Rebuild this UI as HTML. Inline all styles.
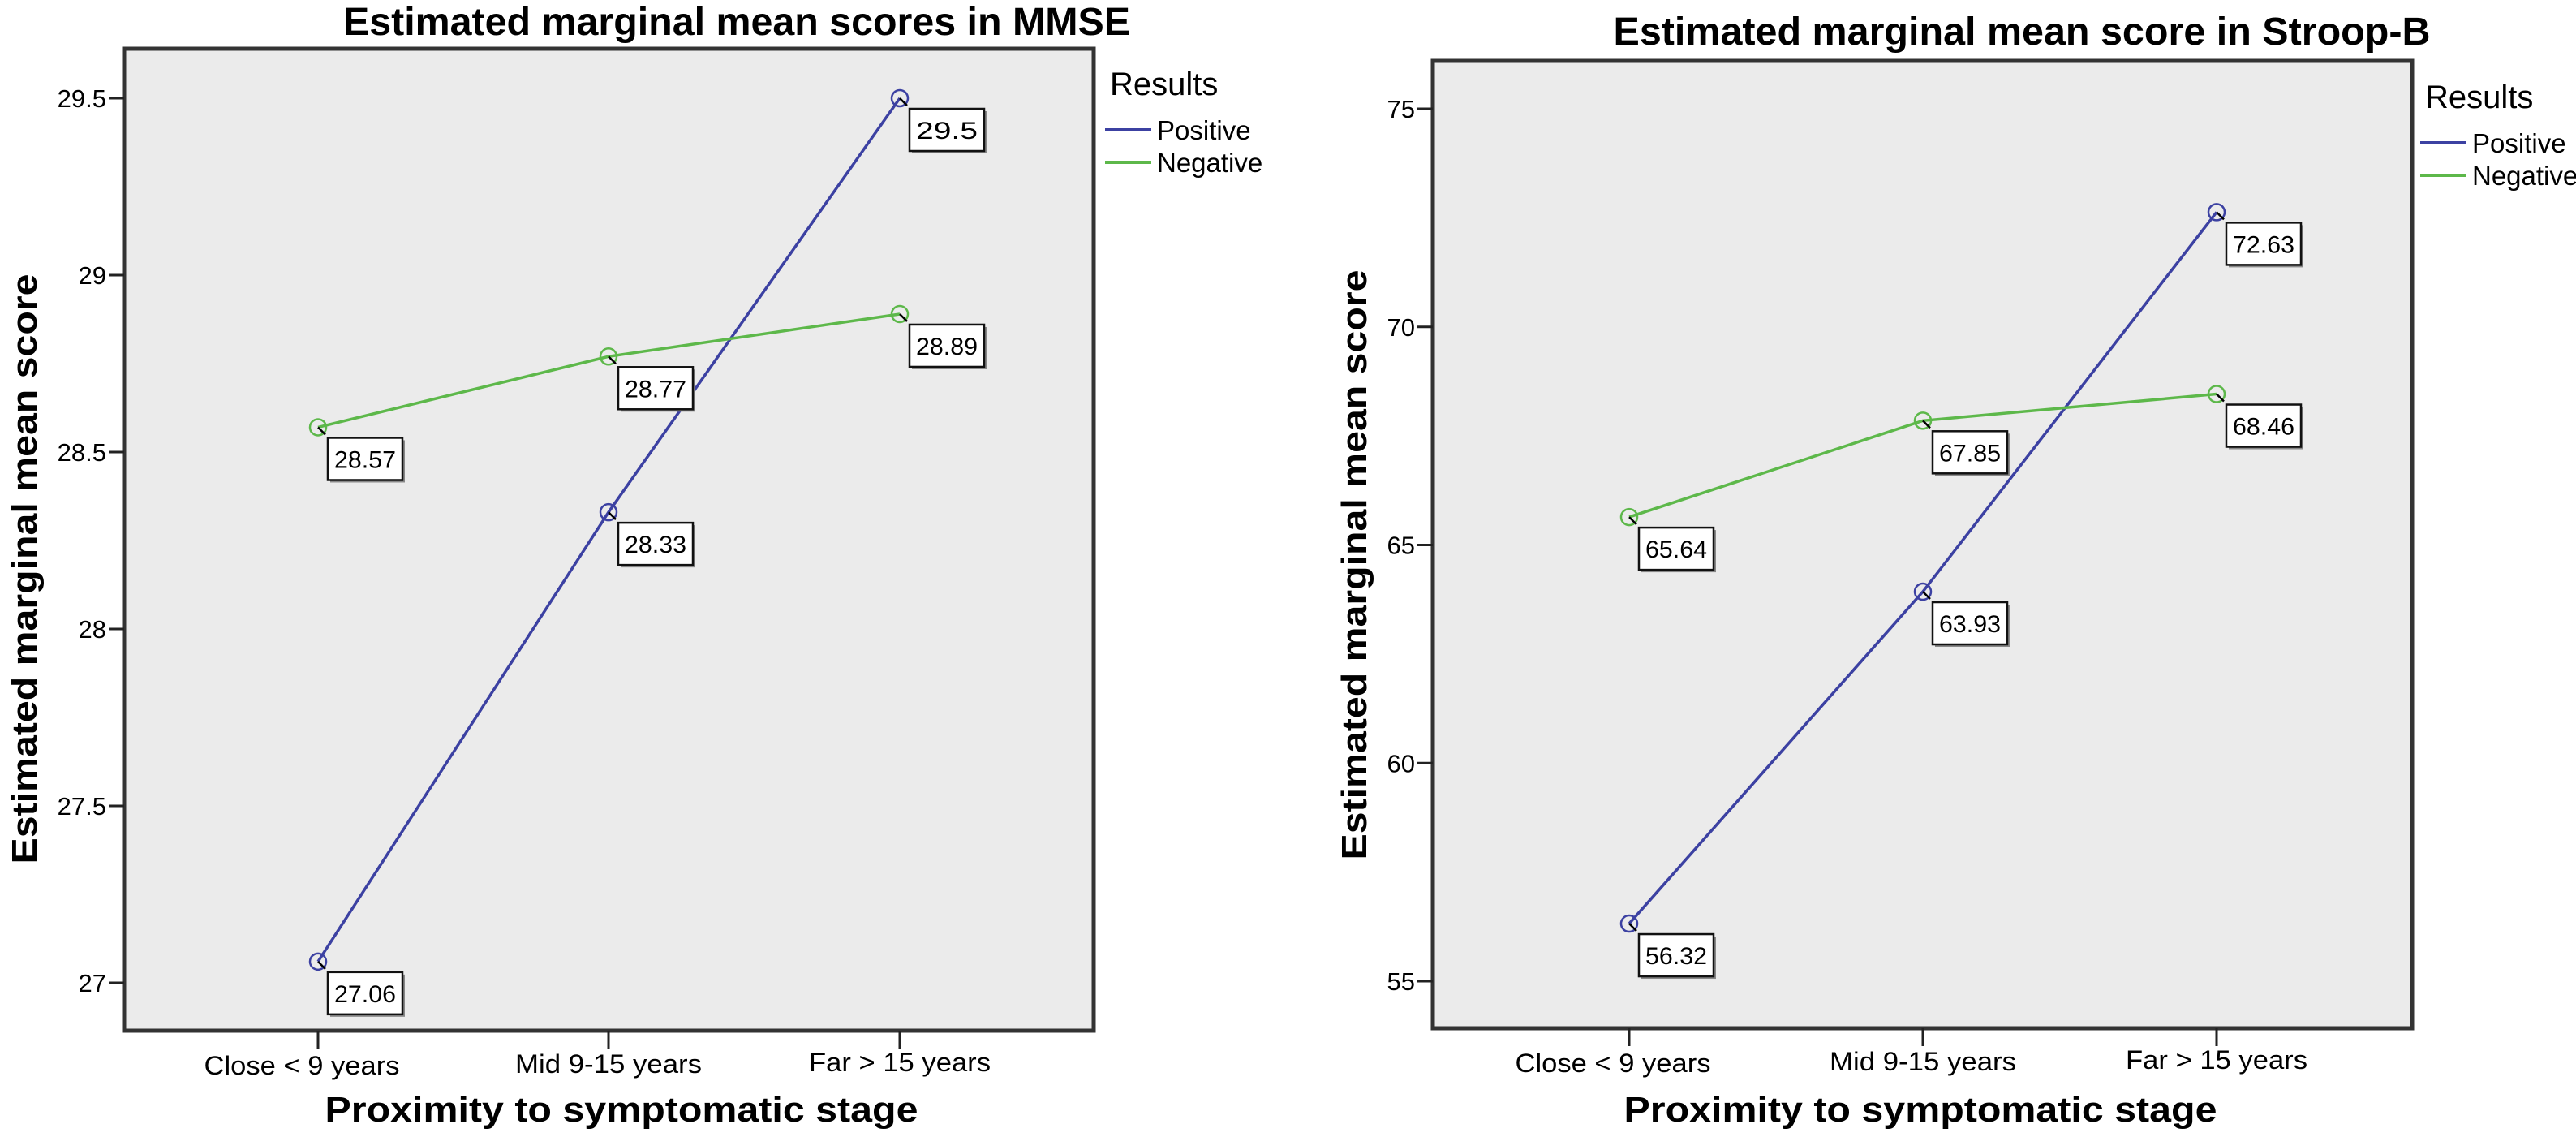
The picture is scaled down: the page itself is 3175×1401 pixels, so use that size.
<!DOCTYPE html>
<html><head><meta charset="utf-8">
<style>
html,body{margin:0;padding:0;background:#fff;}
svg{display:block;font-family:"Liberation Sans",Arial,sans-serif;}
</style></head>
<body>
<svg id="chart" width="3175" height="1401" viewBox="0 0 3175 1401" xmlns="http://www.w3.org/2000/svg"></svg>
<script>
const categories = ["Close < 9 years", "Mid 9-15 years", "Far > 15 years"];
const seriesNames = ["Positive", "Negative"];
const mmsePositive = [27.06, 28.33, 29.5];
const mmseNegative = [28.57, 28.77, 28.89];
const mmseTicks = [27, 27.5, 28, 28.5, 29, 29.5];
const mmseTickLabels = ["27", "27.5", "28", "28.5", "29", "29.5"];
const stroopPositive = [56.32, 63.93, 72.63];
const stroopNegative = [65.64, 67.85, 68.46];
const stroopTicks = [55, 60, 65, 70, 75];
const stroopTickLabels = ["55", "60", "65", "70", "75"];

const NS = "http://www.w3.org/2000/svg";
const svg = document.getElementById("chart");
const COLORS = ["#3c41a2", "#5db84a"];
function mk(tag, attrs, parent, text) {
  const e = document.createElementNS(NS, tag);
  for (const k in attrs) e.setAttribute(k, attrs[k]);
  if (text !== undefined) e.textContent = text;
  (parent || svg).appendChild(e);
  return e;
}

function drawChart(cfg) {
  const g = mk("g", {});
  
  
  const yScale = v => cfg.y0px + (v - cfg.y0val) * cfg.pxPerUnit;
  const xScale = i => cfg.catX[i];

  const t = mk("text", {x: cfg.titleX, y: cfg.titleY, "text-anchor": "middle", "font-size": 48, "font-weight": "bold", textLength: cfg.titleW, lengthAdjust: "spacingAndGlyphs"}, g, cfg.title);
  
  

  const bg = mk("rect", {x: cfg.left, y: cfg.top, width: cfg.right - cfg.left, height: cfg.bottom - cfg.top, fill: "#ebebeb", stroke: "#333", "stroke-width": 5}, g);
  
  

  cfg.ticks.forEach((v, i) => {
    const y = yScale(v);
    const tk = mk("line", {x1: cfg.left - 19, x2: cfg.left, y1: y, y2: y, stroke: "#222", "stroke-width": 3}, g);
    
    
    const tl = mk("text", {x: cfg.left - 22, y: y + 11, "text-anchor": "end", "font-size": 31}, g, cfg.tickLabels[i]);
    
    
  });

  categories.forEach((c, i) => {
    const x = xScale(i);
    const tk = mk("line", {x1: x, x2: x, y1: cfg.bottom, y2: cfg.bottom + 22, stroke: "#222", "stroke-width": 3}, g);
    
    
    const tl = mk("text", {x: x - 2 * (i === 0 ? 10 : 0), y: cfg.bottom + 54 - i * 2, "text-anchor": "middle", "font-size": 32, textLength: [241, 230, 224][i], lengthAdjust: "spacingAndGlyphs"}, g, c);
    
    
  });

  const xt = mk("text", {x: cfg.xTitleX, y: 1382, "text-anchor": "middle", "font-size": 44, "font-weight": "bold", textLength: 731, lengthAdjust: "spacingAndGlyphs"}, g, "Proximity to symptomatic stage");
  
  
  const yt = mk("text", {x: 0, y: 0, "text-anchor": "middle", "font-size": 44, "font-weight": "bold", textLength: 727, lengthAdjust: "spacingAndGlyphs", transform: `translate(${cfg.yTitleX},${cfg.yTitleY}) rotate(-90)`}, g, "Estimated marginal mean score");
  
  

  [cfg.pos, cfg.neg].forEach((vals, s) => {
    const pts = vals.map((v, i) => xScale(i) + "," + yScale(v)).join(" ");
    const pl = mk("polyline", {points: pts, fill: "none", stroke: COLORS[s], "stroke-width": 3.5}, g);
    
    
    vals.forEach((v, i) => {
      const x = xScale(i), y = yScale(v);
      const c = mk("circle", {cx: x, cy: y, r: 10, fill: "none", stroke: COLORS[s], "stroke-width": 2.5}, g);
      
      
      const ld = mk("line", {x1: x, y1: y, x2: x + 9, y2: y + 9, stroke: "#000", "stroke-width": 2.5}, g);
      
      
      const txt = String(v);
      const bw = txt.length > 3 ? 92 : 72;
      const bx = x + 12, by = y + 13;
      const sh = mk("rect", {x: bx + 3, y: by + 3, width: bw, height: 52, fill: "#888"}, g);
      
      
      const b = mk("rect", {x: bx, y: by, width: bw, height: 52, fill: "#fff", stroke: "#111", "stroke-width": 2.5}, g);
      
      
      const lt = mk("text", {x: bx + bw / 2, y: by + 37, "text-anchor": "middle", "font-size": 30, textLength: txt.length > 3 ? 76 : 52, lengthAdjust: "spacingAndGlyphs"}, g, txt);
      
      
    });
  });

  const lr = mk("text", {x: cfg.legX + 6, y: cfg.legY, "font-size": 40}, g, "Results");
  
  
  seriesNames.forEach((n, s) => {
    const ly = cfg.legY + 43 + s * 40;
    const ll = mk("line", {x1: cfg.legX, x2: cfg.legX + 57, y1: ly, y2: ly, stroke: COLORS[s], "stroke-width": 4}, g);
    
    
    const lt = mk("text", {x: cfg.legX + 64, y: ly + 12, "font-size": 33}, g, n);
    
    
  });
}

drawChart({
  name: "mmse-chart", title: "Estimated marginal mean scores in MMSE",
  titleX: 908, titleY: 43, titleW: 970,
  left: 153, right: 1348, top: 60, bottom: 1270,
  y0val: 27, y0px: 1211, pxPerUnit: -436,
  catX: [392, 750, 1109],
  ticks: mmseTicks, tickLabels: mmseTickLabels,
  pos: mmsePositive, neg: mmseNegative,
  xTitleX: 766, yTitleX: 45, yTitleY: 701,
  legX: 1362, legY: 117
});
drawChart({
  name: "stroop-chart", title: "Estimated marginal mean score in Stroop-B",
  titleX: 2492, titleY: 55, titleW: 1007,
  left: 1766, right: 2973, top: 75, bottom: 1267,
  y0val: 55, y0px: 1209, pxPerUnit: -53.75,
  catX: [2008, 2370, 2732],
  ticks: stroopTicks, tickLabels: stroopTickLabels,
  pos: stroopPositive, neg: stroopNegative,
  xTitleX: 2367, yTitleX: 1684, yTitleY: 696,
  legX: 2983, legY: 133
});
</script>
</body></html>
